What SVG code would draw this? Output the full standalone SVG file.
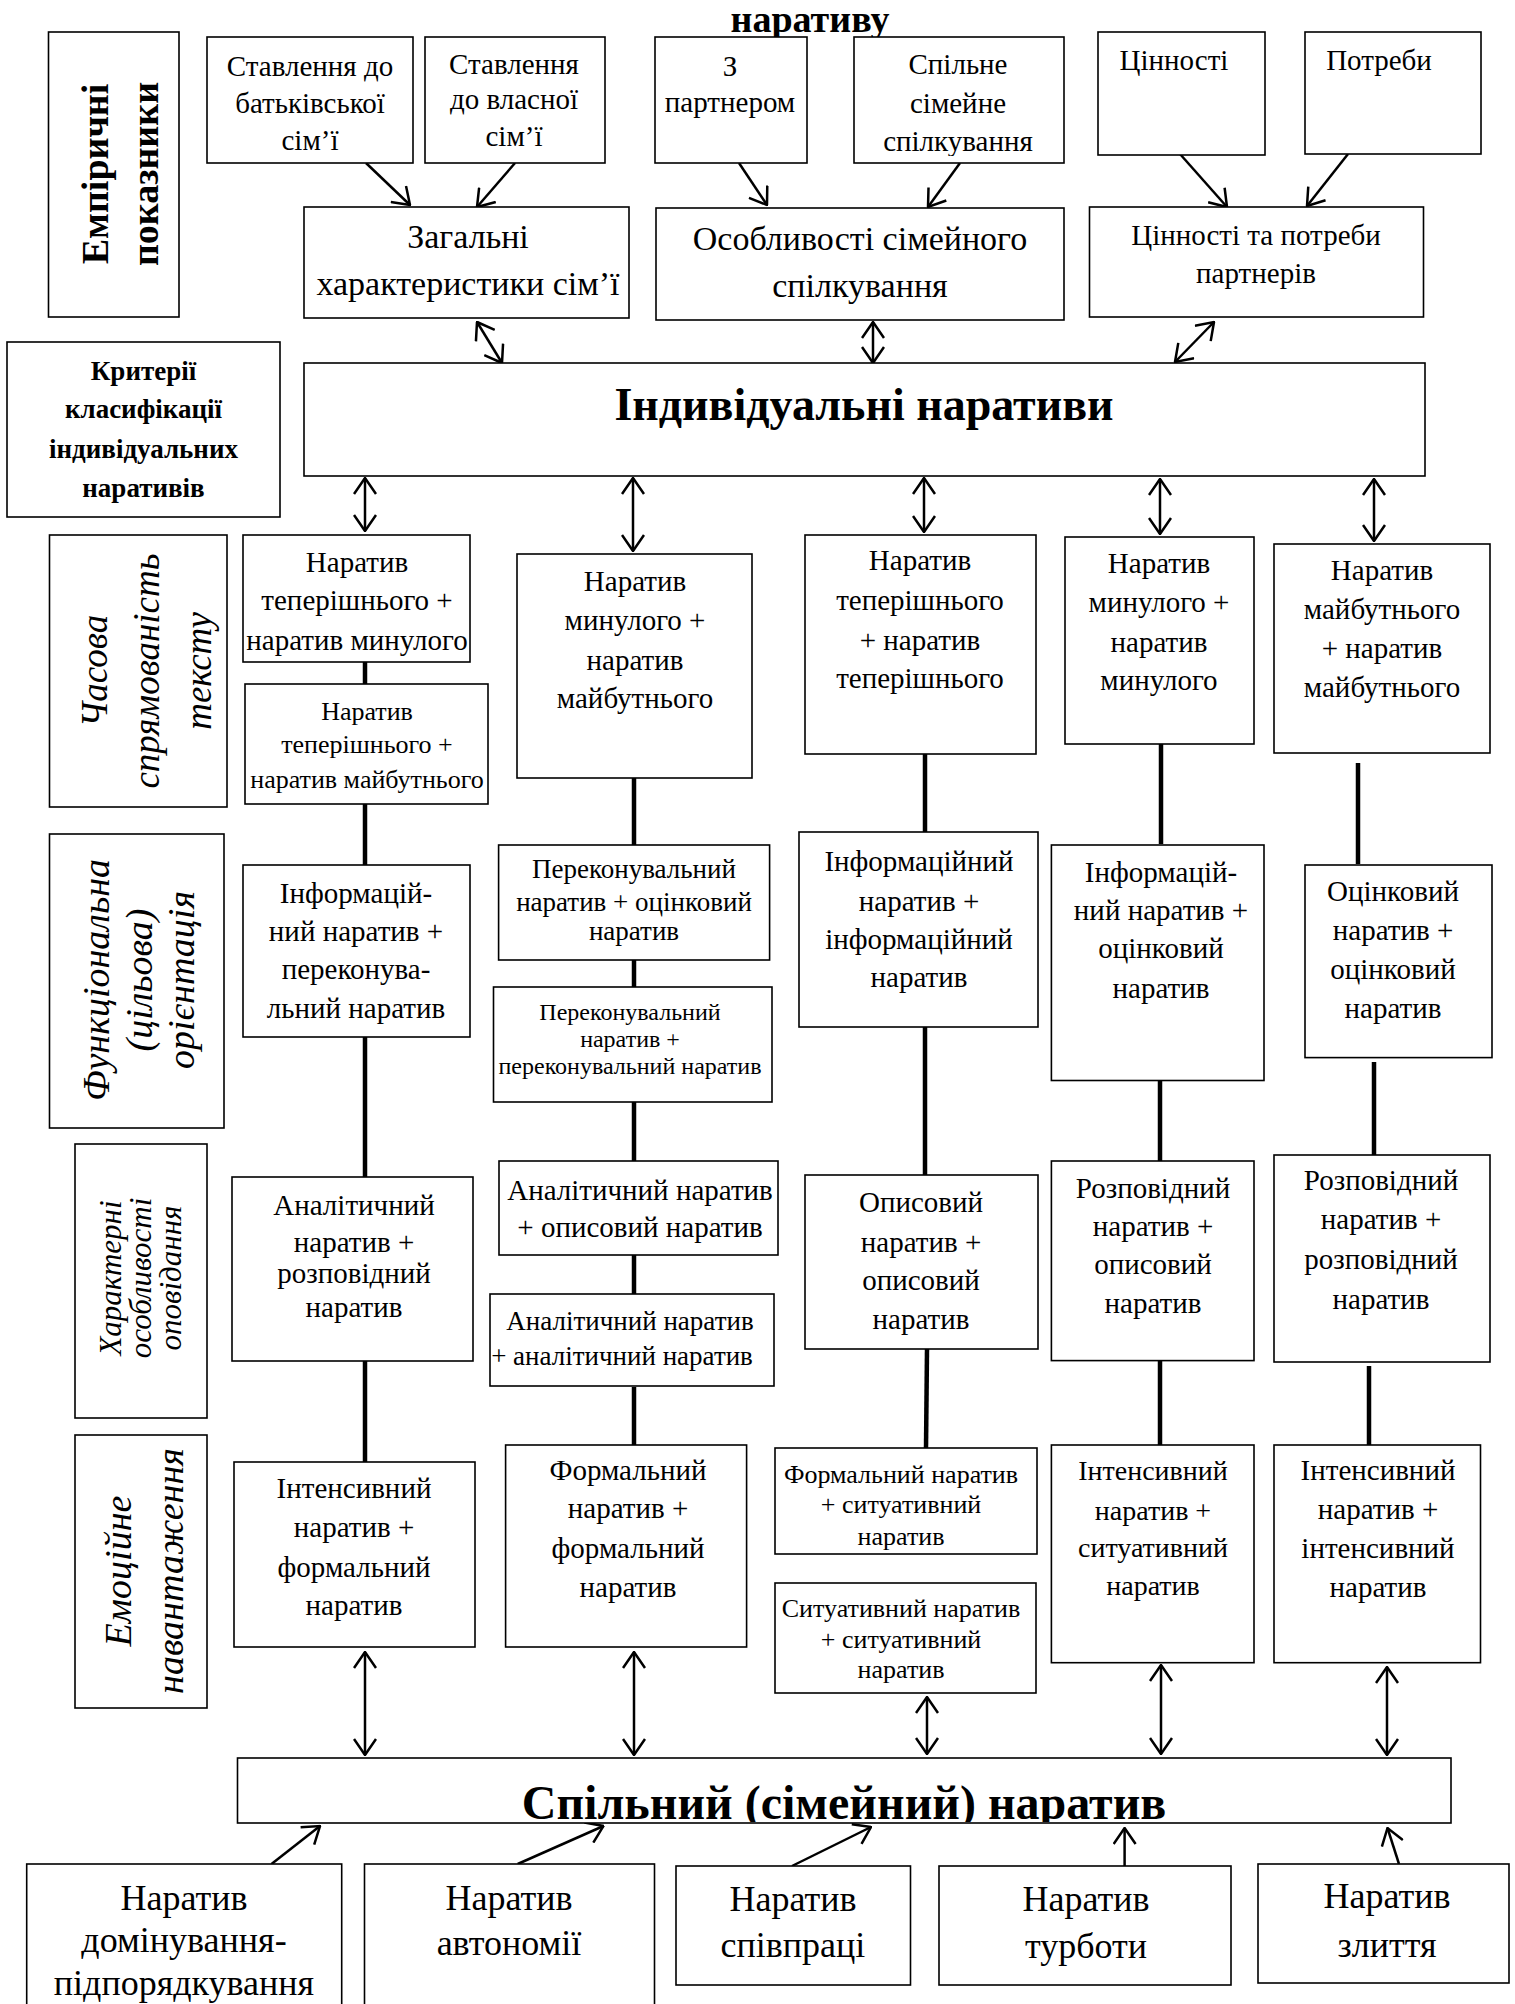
<svg xmlns="http://www.w3.org/2000/svg" width="1515" height="2004" viewBox="0 0 1515 2004">
<style>
.bx{fill:#fff;stroke:#000;stroke-width:1.6}
.t{font-family:"Liberation Serif","Times New Roman",serif;fill:#000;text-anchor:middle}
.b{font-weight:bold}
.i{font-style:italic}
.th{stroke:#000;stroke-width:4.5;fill:none}
.ar{stroke:#000;stroke-width:2.5;fill:none;marker-end:url(#ah)}
.da{stroke:#000;stroke-width:2.5;fill:none;marker-start:url(#ah);marker-end:url(#ah)}
</style>
<defs>
<marker id="ah" viewBox="0 0 18 24" refX="17" refY="12" markerWidth="18" markerHeight="24" markerUnits="userSpaceOnUse" orient="auto-start-reverse">
<path d="M1,1 L17,12 L1,23" fill="none" stroke="#000" stroke-width="2.5"/>
</marker>
<clipPath id="c1a"><rect x="243" y="535" width="227" height="121"/></clipPath>
<clipPath id="c1b"><rect x="245" y="684" width="240" height="120"/></clipPath>
<clipPath id="c3d"><rect x="775" y="1448" width="262" height="104"/></clipPath>
<clipPath id="cD"><rect x="854" y="37" width="210" height="119"/></clipPath>
<clipPath id="cBig"><rect x="237.5" y="1758" width="1213.5" height="64"/></clipPath>
</defs>
<rect width="1515" height="2004" fill="#fff"/>

<g id="title"><text class="t b" font-size="38" x="810" y="32">наративу</text></g>

<g id="connectors">
<line class="ar" x1="366" y1="163" x2="410" y2="205"/>
<line class="ar" x1="515" y1="163" x2="477" y2="207"/>
<line class="ar" x1="739" y1="163" x2="767" y2="205"/>
<line class="ar" x1="960" y1="163" x2="928" y2="207"/>
<line class="ar" x1="1180" y1="154" x2="1227" y2="207"/>
<line class="ar" x1="1348" y1="154" x2="1307" y2="206"/>
<line class="da" x1="477" y1="322" x2="502" y2="363"/>
<line class="da" x1="873" y1="322" x2="873" y2="363"/>
<line class="da" x1="1214" y1="322" x2="1175" y2="362"/>
<line class="da" x1="365" y1="478" x2="365" y2="531"/>
<line class="da" x1="633" y1="478" x2="633" y2="551"/>
<line class="da" x1="924" y1="478" x2="924" y2="532"/>
<line class="da" x1="1160" y1="479" x2="1160" y2="534"/>
<line class="da" x1="1374" y1="479" x2="1374" y2="541"/>
<line class="th" x1="365" y1="662" x2="365" y2="684"/>
<line class="th" x1="365" y1="804" x2="365" y2="865"/>
<line class="th" x1="365" y1="1037" x2="365" y2="1177"/>
<line class="th" x1="365" y1="1361" x2="365" y2="1462"/>
<line class="th" x1="634" y1="778" x2="634" y2="845"/>
<line class="th" x1="634" y1="960" x2="634" y2="987"/>
<line class="th" x1="634" y1="1102" x2="634" y2="1161"/>
<line class="th" x1="634" y1="1255" x2="634" y2="1295"/>
<line class="th" x1="634" y1="1387" x2="634" y2="1445"/>
<line class="th" x1="925" y1="754" x2="925" y2="832"/>
<line class="th" x1="925" y1="1027" x2="925" y2="1175"/>
<line class="th" x1="927" y1="1349" x2="926" y2="1448"/>
<line class="th" x1="1161" y1="744" x2="1161" y2="844"/>
<line class="th" x1="1160" y1="1080" x2="1160" y2="1161"/>
<line class="th" x1="1160" y1="1361" x2="1160" y2="1445"/>
<line class="th" x1="1358" y1="763" x2="1358" y2="864"/>
<line class="th" x1="1374" y1="1062" x2="1374" y2="1155"/>
<line class="th" x1="1369" y1="1366" x2="1369" y2="1450"/>
<line class="da" x1="365" y1="1652" x2="365" y2="1755"/>
<line class="da" x1="634" y1="1652" x2="634" y2="1755"/>
<line class="da" x1="927" y1="1697" x2="927" y2="1754"/>
<line class="da" x1="1161" y1="1665" x2="1161" y2="1754"/>
<line class="da" x1="1387" y1="1667" x2="1387" y2="1755"/>
<line class="ar" x1="271.5" y1="1864" x2="320" y2="1826"/>
<line class="ar" x1="517.7" y1="1864" x2="603.5" y2="1826"/>
<line class="ar" x1="792" y1="1866" x2="871" y2="1827"/>
<line class="ar" x1="1124.6" y1="1866" x2="1124.6" y2="1828"/>
<line class="ar" x1="1399" y1="1864" x2="1387.5" y2="1828"/>
</g>

<g id="nodes">
<g id="lbl-empirical"><rect class="bx" x="48.5" y="32" width="130.5" height="285"/>
<text class="t b" font-size="38" transform="translate(0,174) rotate(-90)"><tspan x="0" y="108">Емпіричні</tspan><tspan x="0" y="158">показники</tspan></text></g>
<g id="lbl-criteria"><rect class="bx" x="7" y="342" width="273" height="175"/>
<text class="t b" font-size="27"><tspan x="143.5" y="380">Критерії</tspan><tspan x="143.5" y="418">класифікації</tspan><tspan x="143.5" y="458">індивідуальних</tspan><tspan x="143.5" y="497">наративів</tspan></text></g>
<g id="lbl-time"><rect class="bx" x="49.5" y="535" width="177.5" height="272"/>
<text class="t i" font-size="37" transform="translate(0,671) rotate(-90)"><tspan x="0" y="107">Часова</tspan><tspan x="0" y="159">спрямованість</tspan><tspan x="0" y="211">тексту</tspan></text></g>
<g id="lbl-func"><rect class="bx" x="49.5" y="834" width="174.5" height="294"/>
<text class="t i" font-size="38" transform="translate(0,980) rotate(-90)"><tspan x="0" y="109">Функціональна</tspan><tspan x="0" y="152">(цільова)</tspan><tspan x="0" y="194">орієнтація</tspan></text></g>
<g id="lbl-narr"><rect class="bx" x="75" y="1144" width="132" height="274"/>
<text class="t i" font-size="31" transform="translate(0,1278) rotate(-90)"><tspan x="0" y="121">Характерні</tspan><tspan x="0" y="151">особливості</tspan><tspan x="0" y="181">оповідання</tspan></text></g>
<g id="lbl-emo"><rect class="bx" x="75" y="1435" width="132" height="273"/>
<text class="t i" font-size="38" transform="translate(0,1571) rotate(-90)"><tspan x="0" y="131">Емоційне</tspan><tspan x="0" y="183">навантаження</tspan></text></g>

<g id="n-parent"><rect class="bx" x="207" y="37" width="206" height="126"/>
<text class="t" font-size="29"><tspan x="310" y="76">Ставлення до</tspan><tspan x="310" y="113">батьківської</tspan><tspan x="310" y="150">сім’ї</tspan></text></g>
<g id="n-own"><rect class="bx" x="425" y="37" width="180" height="126"/>
<text class="t" font-size="29"><tspan x="514" y="74">Ставлення</tspan><tspan x="514" y="109">до власної</tspan><tspan x="514" y="146">сім’ї</tspan></text></g>
<g id="n-partner"><rect class="bx" x="655" y="37" width="152" height="126"/>
<text class="t" font-size="29"><tspan x="730" y="76">З</tspan><tspan x="730" y="112">партнером</tspan></text></g>
<g id="n-joint"><rect class="bx" x="854" y="37" width="210" height="126"/>
<text class="t" font-size="29" clip-path="url(#cD)"><tspan x="958" y="74">Спільне</tspan><tspan x="958" y="113">сімейне</tspan><tspan x="958" y="151">спілкування</tspan></text></g>
<g id="n-values"><rect class="bx" x="1098" y="32" width="167" height="123"/>
<text class="t" font-size="29" x="1174" y="70">Цінності</text></g>
<g id="n-needs"><rect class="bx" x="1305" y="32" width="176" height="122"/>
<text class="t" font-size="29" x="1379" y="70">Потреби</text></g>

<g id="n-general"><rect class="bx" x="304" y="207" width="325" height="111"/>
<text class="t" font-size="34"><tspan x="468" y="248">Загальні</tspan><tspan x="468" y="295">характеристики сім’ї</tspan></text></g>
<g id="n-comm"><rect class="bx" x="656" y="208" width="408" height="112"/>
<text class="t" font-size="34"><tspan x="860" y="250">Особливості сімейного</tspan><tspan x="860" y="297">спілкування</tspan></text></g>
<g id="n-valneeds"><rect class="bx" x="1089.5" y="207" width="334" height="110"/>
<text class="t" font-size="29"><tspan x="1256" y="245">Цінності та потреби</tspan><tspan x="1256" y="283">партнерів</tspan></text></g>

<g id="n-individual"><rect class="bx" x="304" y="363" width="1121" height="113"/>
<text class="t b" font-size="46" x="864" y="420">Індивідуальні наративи</text></g>

<g id="n-1a"><rect class="bx" x="243" y="535" width="227" height="127"/>
<text class="t" font-size="29" clip-path="url(#c1a)"><tspan x="357" y="572">Наратив</tspan><tspan x="357" y="610">теперішнього +</tspan><tspan x="357" y="650">наратив минулого</tspan></text></g>
<g id="n-1b"><rect class="bx" x="245" y="684" width="243" height="120"/>
<text class="t" font-size="26" clip-path="url(#c1b)"><tspan x="367" y="720">Наратив</tspan><tspan x="367" y="753">теперішнього +</tspan><tspan x="367" y="788">наратив майбутнього</tspan></text></g>
<g id="n-1c"><rect class="bx" x="243" y="865" width="227" height="172"/>
<text class="t" font-size="29"><tspan x="356" y="903">Інформацій-</tspan><tspan x="356" y="941">ний наратив +</tspan><tspan x="356" y="979">переконува-</tspan><tspan x="356" y="1018">льний наратив</tspan></text></g>
<g id="n-1d"><rect class="bx" x="232" y="1177" width="241" height="184"/>
<text class="t" font-size="29"><tspan x="354" y="1215">Аналітичний</tspan><tspan x="354" y="1252">наратив +</tspan><tspan x="354" y="1283">розповідний</tspan><tspan x="354" y="1317">наратив</tspan></text></g>
<g id="n-1e"><rect class="bx" x="234" y="1462" width="241" height="185"/>
<text class="t" font-size="29"><tspan x="354" y="1498">Інтенсивний</tspan><tspan x="354" y="1537">наратив +</tspan><tspan x="354" y="1577">формальний</tspan><tspan x="354" y="1615">наратив</tspan></text></g>

<g id="n-2a"><rect class="bx" x="517" y="554" width="235" height="224"/>
<text class="t" font-size="29"><tspan x="635" y="591">Наратив</tspan><tspan x="635" y="630">минулого +</tspan><tspan x="635" y="670">наратив</tspan><tspan x="635" y="708">майбутнього</tspan></text></g>
<g id="n-2b"><rect class="bx" x="498.6" y="845" width="271" height="115"/>
<text class="t" font-size="27"><tspan x="634" y="878">Переконувальний</tspan><tspan x="634" y="911">наратив + оцінковий</tspan><tspan x="634" y="940">наратив</tspan></text></g>
<g id="n-2c"><rect class="bx" x="493.5" y="987" width="278.5" height="115"/>
<text class="t" font-size="24"><tspan x="630" y="1020">Переконувальний</tspan><tspan x="630" y="1047">наратив +</tspan><tspan x="630" y="1074">переконувальний наратив</tspan></text></g>
<g id="n-2d"><rect class="bx" x="499" y="1161" width="279" height="94"/>
<text class="t" font-size="29"><tspan x="640" y="1200">Аналітичний наратив</tspan><tspan x="640" y="1237">+ описовий наратив</tspan></text></g>
<g id="n-2e"><rect class="bx" x="490" y="1294" width="284" height="92"/>
<text class="t" font-size="27"><tspan x="630" y="1330">Аналітичний наратив</tspan><tspan x="622" y="1365">+ аналітичний наратив</tspan></text></g>
<g id="n-2f"><rect class="bx" x="505.6" y="1445" width="241" height="202"/>
<text class="t" font-size="29"><tspan x="628" y="1480">Формальний</tspan><tspan x="628" y="1518">наратив +</tspan><tspan x="628" y="1558">формальний</tspan><tspan x="628" y="1597">наратив</tspan></text></g>

<g id="n-3a"><rect class="bx" x="805" y="535" width="231" height="219"/>
<text class="t" font-size="29"><tspan x="920" y="570">Наратив</tspan><tspan x="920" y="610">теперішнього</tspan><tspan x="920" y="650">+ наратив</tspan><tspan x="920" y="688">теперішнього</tspan></text></g>
<g id="n-3b"><rect class="bx" x="799" y="832" width="239" height="195"/>
<text class="t" font-size="29"><tspan x="919" y="871">Інформаційний</tspan><tspan x="919" y="911">наратив +</tspan><tspan x="919" y="949">інформаційний</tspan><tspan x="919" y="987">наратив</tspan></text></g>
<g id="n-3c"><rect class="bx" x="805" y="1175" width="233" height="174"/>
<text class="t" font-size="29"><tspan x="921" y="1212">Описовий</tspan><tspan x="921" y="1252">наратив +</tspan><tspan x="921" y="1290">описовий</tspan><tspan x="921" y="1329">наратив</tspan></text></g>
<g id="n-3d"><rect class="bx" x="775" y="1448" width="262" height="106"/>
<text class="t" font-size="26" clip-path="url(#c3d)"><tspan x="901" y="1483">Формальний наратив</tspan><tspan x="901" y="1513">+ ситуативний</tspan><tspan x="901" y="1545">наратив</tspan></text></g>
<g id="n-3e"><rect class="bx" x="775" y="1583" width="261" height="110"/>
<text class="t" font-size="26"><tspan x="901" y="1617">Ситуативний наратив</tspan><tspan x="901" y="1648">+ ситуативний</tspan><tspan x="901" y="1678">наратив</tspan></text></g>

<g id="n-4a"><rect class="bx" x="1065" y="537" width="189" height="207"/>
<text class="t" font-size="29"><tspan x="1159" y="573">Наратив</tspan><tspan x="1159" y="612">минулого +</tspan><tspan x="1159" y="652">наратив</tspan><tspan x="1159" y="690">минулого</tspan></text></g>
<g id="n-4b"><rect class="bx" x="1051.4" y="845" width="212.6" height="235.5"/>
<text class="t" font-size="29"><tspan x="1161" y="882">Інформацій-</tspan><tspan x="1161" y="920">ний наратив +</tspan><tspan x="1161" y="958">оцінковий</tspan><tspan x="1161" y="998">наратив</tspan></text></g>
<g id="n-4c"><rect class="bx" x="1051.4" y="1161" width="202.6" height="199.6"/>
<text class="t" font-size="29"><tspan x="1153" y="1198">Розповідний</tspan><tspan x="1153" y="1236">наратив +</tspan><tspan x="1153" y="1274">описовий</tspan><tspan x="1153" y="1313">наратив</tspan></text></g>
<g id="n-4d"><rect class="bx" x="1051.4" y="1445" width="202.6" height="217.7"/>
<text class="t" font-size="28"><tspan x="1153" y="1480">Інтенсивний</tspan><tspan x="1153" y="1520">наратив +</tspan><tspan x="1153" y="1557">ситуативний</tspan><tspan x="1153" y="1595">наратив</tspan></text></g>

<g id="n-5a"><rect class="bx" x="1274" y="544" width="216" height="209"/>
<text class="t" font-size="29"><tspan x="1382" y="580">Наратив</tspan><tspan x="1382" y="619">майбутнього</tspan><tspan x="1382" y="658">+ наратив</tspan><tspan x="1382" y="697">майбутнього</tspan></text></g>
<g id="n-5b"><rect class="bx" x="1305" y="865" width="187" height="192.6"/>
<text class="t" font-size="29"><tspan x="1393" y="901">Оцінковий</tspan><tspan x="1393" y="940">наратив +</tspan><tspan x="1393" y="979">оцінковий</tspan><tspan x="1393" y="1018">наратив</tspan></text></g>
<g id="n-5c"><rect class="bx" x="1274" y="1155" width="216" height="207"/>
<text class="t" font-size="29"><tspan x="1381" y="1190">Розповідний</tspan><tspan x="1381" y="1229">наратив +</tspan><tspan x="1381" y="1269">розповідний</tspan><tspan x="1381" y="1309">наратив</tspan></text></g>
<g id="n-5d"><rect class="bx" x="1274" y="1445" width="206.5" height="217.7"/>
<text class="t" font-size="29"><tspan x="1378" y="1480">Інтенсивний</tspan><tspan x="1378" y="1519">наратив +</tspan><tspan x="1378" y="1558">інтенсивний</tspan><tspan x="1378" y="1597">наратив</tspan></text></g>

<g id="n-joint-narr"><rect class="bx" x="237.5" y="1758" width="1213.5" height="65"/>
<text class="t b" font-size="48" x="844" y="1819" clip-path="url(#cBig)">Спільний (сімейний) наратив</text></g>

<g id="n-dom"><rect class="bx" x="26.7" y="1864" width="315" height="160"/>
<text class="t" font-size="36"><tspan x="184" y="1910">Наратив</tspan><tspan x="184" y="1952">домінування-</tspan><tspan x="184" y="1995">підпорядкування</tspan></text></g>
<g id="n-auto"><rect class="bx" x="364.5" y="1864" width="290" height="160"/>
<text class="t" font-size="36"><tspan x="509" y="1910">Наратив</tspan><tspan x="509" y="1955">автономії</tspan></text></g>
<g id="n-coop"><rect class="bx" x="676" y="1866" width="234.5" height="119"/>
<text class="t" font-size="36"><tspan x="793" y="1911">Наратив</tspan><tspan x="793" y="1957">співпраці</tspan></text></g>
<g id="n-care"><rect class="bx" x="939" y="1866" width="292" height="119"/>
<text class="t" font-size="36"><tspan x="1086" y="1911">Наратив</tspan><tspan x="1086" y="1958">турботи</tspan></text></g>
<g id="n-fusion"><rect class="bx" x="1258" y="1864" width="251" height="119"/>
<text class="t" font-size="36"><tspan x="1387" y="1908">Наратив</tspan><tspan x="1387" y="1957">злиття</tspan></text></g>
</g>
</svg>
